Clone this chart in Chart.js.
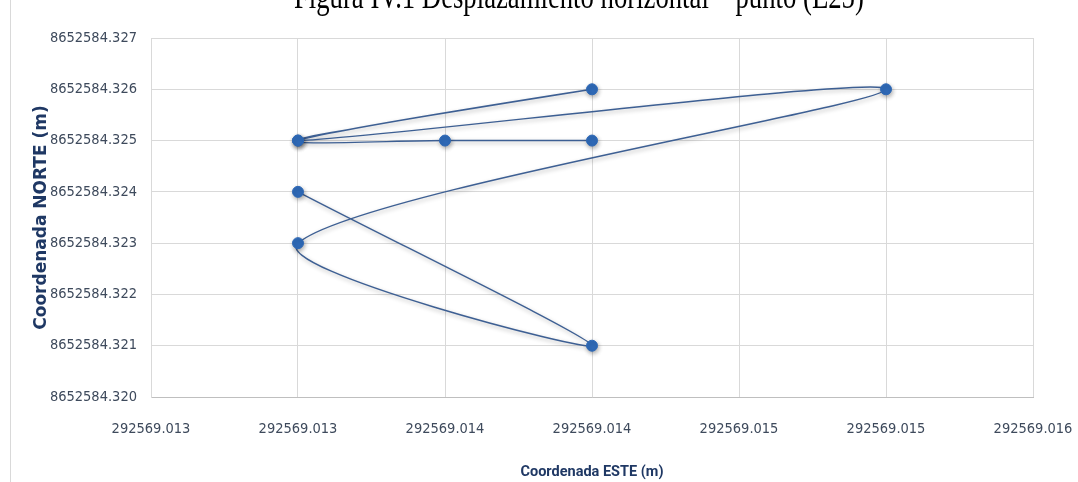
<!DOCTYPE html>
<html>
<head>
<meta charset="utf-8">
<script src="https://cdn.jsdelivr.net/npm/chart.js@4/dist/chart.umd.min.js"></script>
<style>
  html, body { margin: 0; padding: 0; background: #ffffff; }
  #wrap { position: relative; width: 1078px; height: 482px; overflow: hidden; background: #ffffff; }
  #c { position: absolute; left: 0; top: 0; }
  #title { position: absolute; left: 294px; top: -21px; font-family: "Liberation Serif", "Times New Roman", serif;
           font-size: 35px; line-height: 35px; white-space: nowrap; color: #000000;
           transform: scaleX(0.763); transform-origin: 0 0; }
</style>
</head>
<body>
<div id="wrap">
  <canvas id="c" width="1078" height="482"></canvas>
  <div id="title"></div>
</div>
<script>
// ---- data ----
const chartTitle = "Figura IV.1 Desplazamiento horizontal – punto (E25)";
const xAxisTitle = "Coordenada ESTE (m)";
const yAxisTitle = "Coordenada NORTE (m)";

// measurement sequence (easting, northing)
const eastings  = [292569.0130, 292569.0140, 292569.0130, 292569.0150, 292569.0130, 292569.0140, 292569.0130, 292569.0135, 292569.0140];
const northings = [8652584.324, 8652584.321, 8652584.323, 8652584.326, 8652584.325, 8652584.326, 8652584.325, 8652584.325, 8652584.325];

const xTickValues = [292569.0125, 292569.0130, 292569.0135, 292569.0140, 292569.0145, 292569.0150, 292569.0155];
const xTickLabels = ["292569.013", "292569.013", "292569.014", "292569.014", "292569.015", "292569.015", "292569.016"];
const yTickValues = [8652584.320, 8652584.321, 8652584.322, 8652584.323, 8652584.324, 8652584.325, 8652584.326, 8652584.327];
const yTickLabels = ["8652584.320", "8652584.321", "8652584.322", "8652584.323", "8652584.324", "8652584.325", "8652584.326", "8652584.327"];

document.getElementById('title').textContent = chartTitle;

const points = eastings.map((x, i) => ({ x: x, y: northings[i] }));

const frameLine = {
  id: 'frameLine',
  beforeDraw(chart) {
    const ctx = chart.ctx;
    ctx.save();
    ctx.fillStyle = '#ffffff';
    ctx.fillRect(0, 0, chart.width, chart.height);
    ctx.strokeStyle = '#d9d9d9';
    ctx.lineWidth = 1;
    ctx.beginPath();
    ctx.moveTo(10.5, 0);
    ctx.lineTo(10.5, chart.height);
    ctx.stroke();
    ctx.restore();
  }
};

const shadow = {
  id: 'shadow',
  beforeDatasetDraw(chart) {
    const ctx = chart.ctx;
    ctx.save();
    ctx.shadowColor = 'rgba(0,0,0,0.30)';
    ctx.shadowBlur = 4;
    ctx.shadowOffsetX = 1;
    ctx.shadowOffsetY = 2;
  },
  afterDatasetDraw(chart) { chart.ctx.restore(); }
};

const tickFont = { family: '"DejaVu Sans Condensed", "DejaVu Sans", sans-serif', size: 14.5 };

new Chart(document.getElementById('c'), {
  type: 'scatter',
  data: {
    datasets: [{
      data: points,
      showLine: true,
      tension: 0.3,
      borderColor: '#3d5f93',
      borderWidth: 1.4,
      pointRadius: 5.5,
      pointBackgroundColor: '#2f6ab8',
      pointBorderColor: '#2f6ab8',
      pointBorderWidth: 1,
      clip: false
    }]
  },
  options: {
    responsive: false,
    animation: false,
    devicePixelRatio: 1,
    layout: { padding: { left: 0, right: 45, top: 38, bottom: 0 } },
    plugins: { legend: { display: false }, tooltip: { enabled: false }, title: { display: false } },
    scales: {
      x: {
        type: 'linear',
        min: xTickValues[0],
        max: xTickValues[xTickValues.length - 1],
        afterBuildTicks: s => { s.ticks = xTickValues.map(v => ({ value: v })); },
        afterFit: s => { s.height = 85; s.paddingLeft = 0; s.paddingRight = 0; },
        grid: { color: '#d9d9d9', lineWidth: 1, drawTicks: false },
        border: { display: true, color: '#bfbfbf', width: 1 },
        ticks: {
          padding: 24, color: '#3e4a5c', font: tickFont, maxRotation: 0, autoSkip: false,
          callback: (v, i) => xTickLabels[i]
        },
        title: {
          display: true, text: xAxisTitle, color: '#1f3864',
          font: { family: 'Roboto, "Liberation Sans", sans-serif', size: 14.5, weight: 'bold' },
          padding: { top: 0, bottom: 1 }
        }
      },
      y: {
        type: 'linear',
        min: yTickValues[0],
        max: yTickValues[yTickValues.length - 1],
        afterBuildTicks: s => { s.ticks = yTickValues.map(v => ({ value: v })); },
        afterFit: s => { s.width = 151; },
        grid: { color: '#d9d9d9', lineWidth: 1, drawTicks: false },
        border: { display: true, color: '#d9d9d9', width: 1 },
        ticks: {
          padding: 14, color: '#3e4a5c', font: tickFont, autoSkip: false,
          callback: (v, i) => yTickLabels[i]
        },
        title: {
          display: true, text: yAxisTitle, color: '#1f3864',
          font: { family: '"DejaVu Sans", Verdana, sans-serif', size: 17, weight: 'bold' },
          padding: { top: 31, bottom: 31 }
        }
      }
    }
  },
  plugins: [frameLine, shadow]
});
</script>
</body>
</html>
